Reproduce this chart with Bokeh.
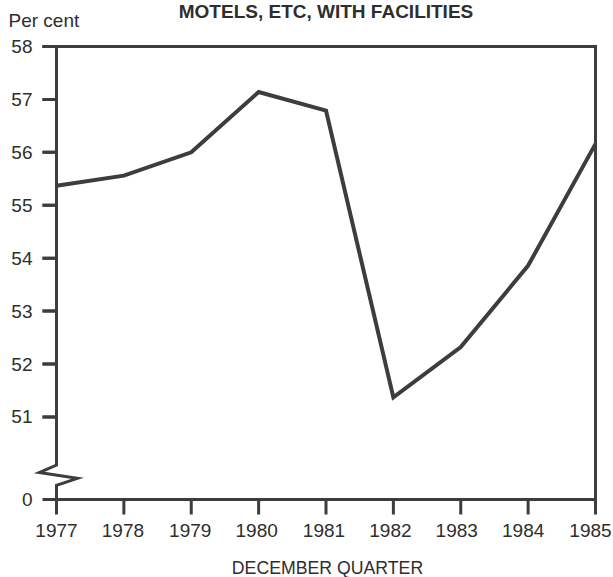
from bokeh.plotting import figure
from bokeh.models import Range1d
from bokeh.core.properties import value
from bokeh.embed import file_html
from bokeh.resources import INLINE

# ---- data ----
years = [1977, 1978, 1979, 1980, 1981, 1982, 1983, 1984, 1985]
occupancy = [55.37, 55.56, 56.00, 57.14, 56.79, 51.37, 52.32, 53.86, 56.16]
y_ticks = [51, 52, 53, 54, 55, 56, 57, 58]
zero_pos = 49.44          # where the "0" of the broken axis sits
y_labels = ["0"] + [str(t) for t in y_ticks]
x_labels = [str(y) for y in years]
title_text = "MOTELS, ETC, WITH FACILITIES"
y_unit = "Per cent"
x_title = "DECEMBER QUARTER"

# axis break (zigzag) in data units, on the left axis
break_x = [1977, 1976.745, 1977.31, 1977]
break_y = [50.09, 49.95, 49.84, 49.71]

INK = "#3d3d3d"
TXT = "#2e2e2e"
FONT = "Liberation Sans"
W, H = 613, 577

x_first, x_last = years[0], years[-1]
y_top = y_ticks[-1]

# pixel geometry: 1977 at x=56, 1985 at x=595, 58 at y=46, "0" at y=499
px_per_year = 539 / (x_last - x_first)
px_per_unit = 453 / (y_top - zero_pos)
x_start = x_first - 56 / px_per_year
x_end = x_start + W / px_per_year
y_end = y_top + 46 / px_per_unit
y_start = y_end - H / px_per_unit


def xd(px):
    return x_start + px / px_per_year


def yd(py):
    return y_end - py / px_per_unit


tick_len = 14 / px_per_year
tick_x = x_first - tick_len

p = figure(frame_width=W, frame_height=H,
           min_border_left=0, min_border_right=0,
           min_border_top=0, min_border_bottom=0,
           x_range=Range1d(x_start, x_end), y_range=Range1d(y_start, y_end),
           x_axis_location=None, y_axis_location=None,
           output_backend="svg", toolbar_location=None,
           background_fill_color="white", border_fill_color="white")
p.outline_line_color = None
p.grid.visible = False

# frame: top, right, bottom (from the tick start on the left)
p.line([tick_x, x_last, x_last, tick_x],
       [y_top, y_top, zero_pos, zero_pos],
       line_color=INK, line_width=3, line_join="miter")

# left axis with the break
p.line([x_first, x_first] + break_x[1:] + [x_first], [y_top] + break_y + [zero_pos],
       line_color=INK, line_width=3, line_join="miter")

# left axis ticks and labels
p.rect(x=[(tick_x + x_first) / 2] * len(y_ticks), y=y_ticks,
       width=14, width_units="screen", height=3 / px_per_unit,
       fill_color=INK, line_color=None)
p.multi_line(xs=[[tick_x, x_first] for _ in y_ticks], ys=[[t, t] for t in y_ticks],
             line_color=INK, line_width=3)
p.text(x=[tick_x] * len(y_labels), y=[zero_pos] + y_ticks, text=y_labels,
       x_offset=-10, text_align="right", text_baseline="middle",
       text_font=value(FONT), text_font_size="19px", text_color=TXT)

# bottom axis ticks and labels
p.rect(x=years, y=[zero_pos - 7.5 / px_per_unit] * len(years),
       width=3, width_units="screen", height=15 / px_per_unit,
       fill_color=INK, line_color=None)
p.text(x=years, y=[yd(530)] * len(years), text=x_labels,
       x_offset=[0, -1, -1, -2, -2, -3, -4, -5, -5],
       text_align="center", text_baseline="middle",
       text_font=value(FONT), text_font_size="19px", text_color=TXT)

# data line
p.line(years, occupancy, line_color=INK, line_width=4, line_join="miter")

# titles
p.text(x=[xd(327)], y=[yd(567.5)], text=[x_title],
       text_align="center", text_baseline="middle",
       text_font=value(FONT), text_font_size="17.7px", text_color=TXT)
p.text(x=[xd(8)], y=[yd(20)], text=[y_unit],
       text_align="left", text_baseline="middle",
       text_font=value(FONT), text_font_size="19px", text_color=TXT)
p.text(x=[(x_first + x_last) / 2], y=[yd(11)], text=[title_text],
       text_align="center", text_baseline="middle",
       text_font=value(FONT), text_font_size="19px", text_font_style="bold",
       text_color=TXT)

open("out.html", "w").write(file_html(p, INLINE))
